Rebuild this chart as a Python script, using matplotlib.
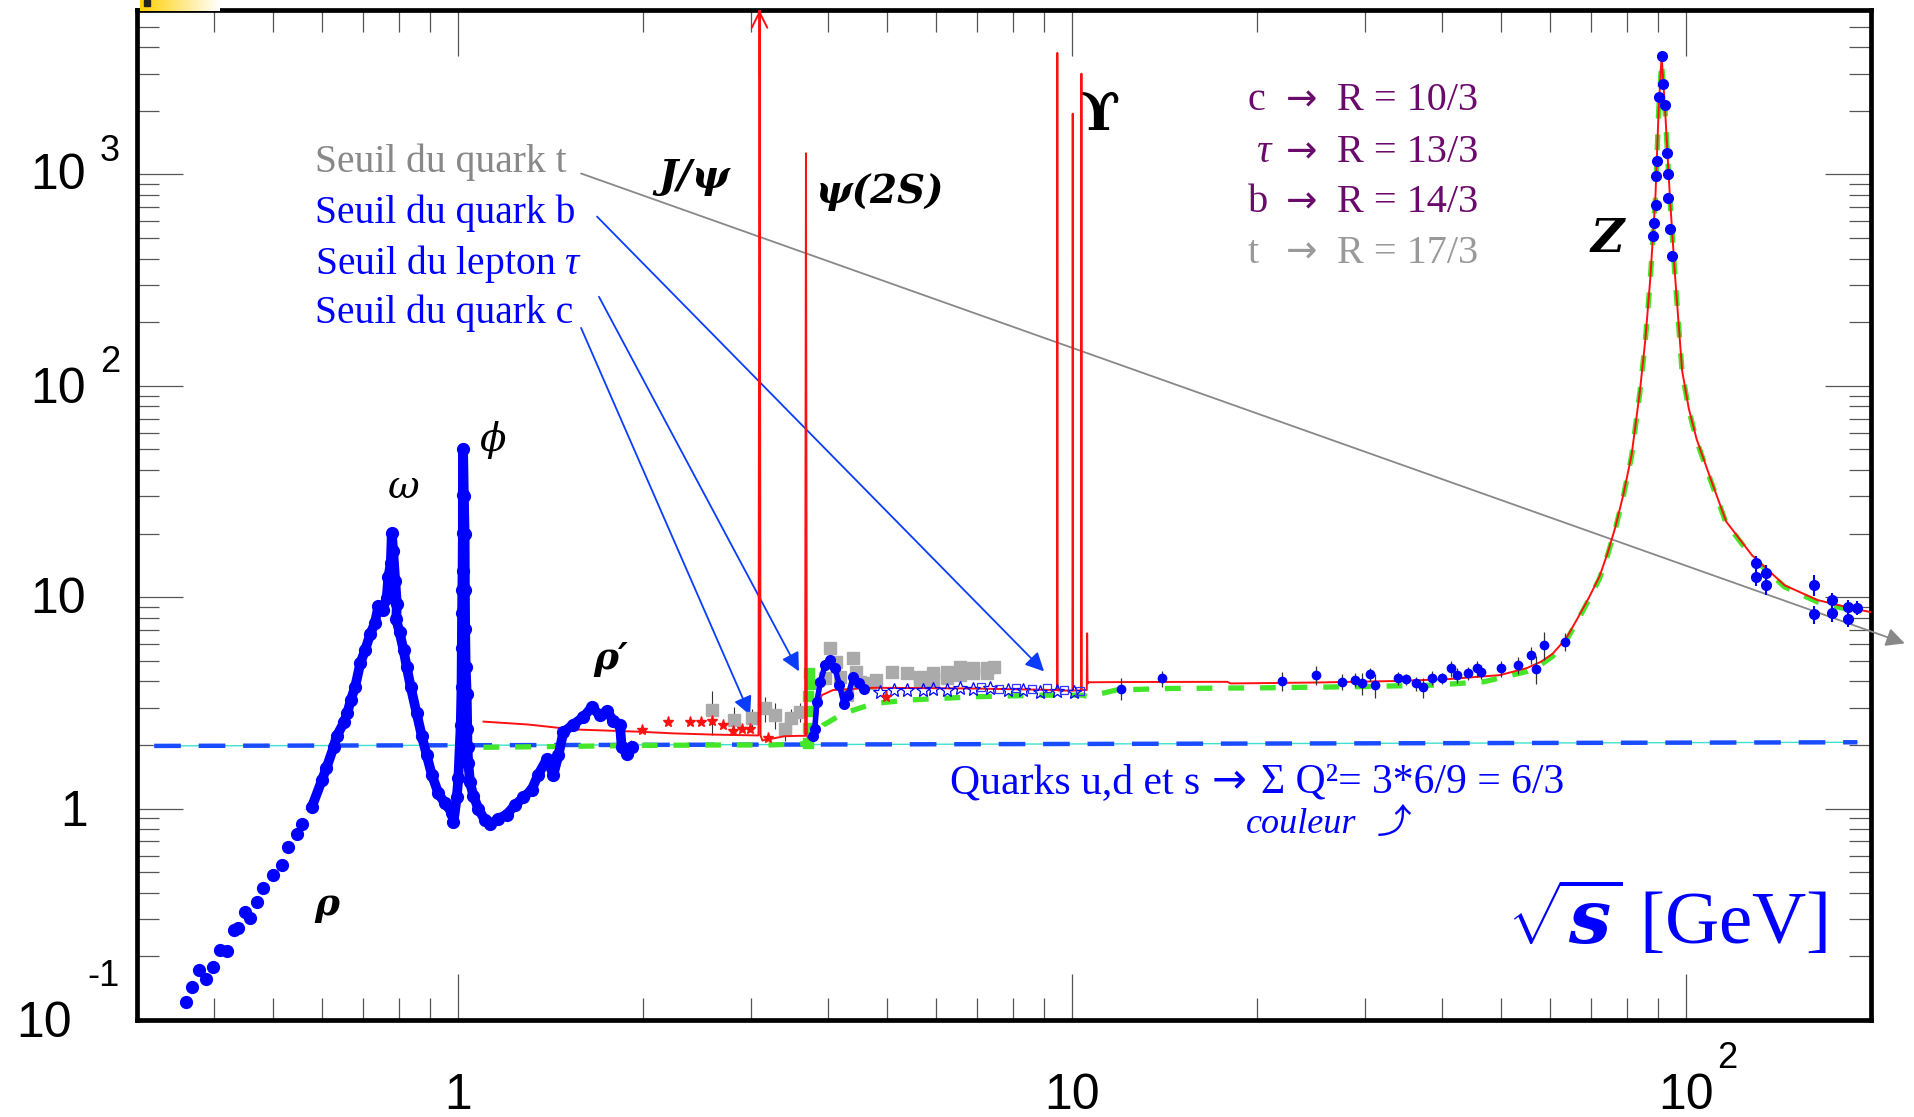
import numpy as np
import matplotlib
matplotlib.use('Agg')
import matplotlib.pyplot as plt
from matplotlib.ticker import LogLocator, NullFormatter

# ------------------------------------------------------------
# DATA
# ------------------------------------------------------------

# rho rise, sparse points below ~0.58 GeV
rho_x = [0.360, 0.369, 0.379, 0.389, 0.399, 0.410, 0.420, 0.431, 0.438, 0.450,
         0.458, 0.470, 0.482, 0.499, 0.516, 0.529, 0.546, 0.558]
rho_y = [0.122, 0.143, 0.173, 0.157, 0.178, 0.215, 0.212, 0.267, 0.273, 0.323,
         0.305, 0.362, 0.423, 0.487, 0.544, 0.656, 0.761, 0.843]

# dense low energy data: rho / omega / phi / rho'
low_x = [0.578, 0.600, 0.610, 0.627, 0.634, 0.652, 0.660, 0.669, 0.680, 0.693,
         0.706, 0.719, 0.732, 0.742, 0.754, 0.765, 0.770, 0.777, 0.780, 0.784,
         0.790, 0.795, 0.793, 0.803, 0.815, 0.825, 0.837, 0.856, 0.873, 0.889,
         0.906, 0.929, 0.952, 0.977, 0.983, 0.995, 1.001, 1.010, 1.013, 1.014,
         1.015, 1.016, 1.017, 1.018, 1.018, 1.019, 1.022, 1.025, 1.026, 1.027,
         1.029, 1.033, 1.035, 1.036, 1.039, 1.046, 1.059, 1.079, 1.106, 1.127,
         1.163, 1.200, 1.238, 1.278, 1.318, 1.351, 1.394, 1.430, 1.457, 1.484,
         1.541, 1.599, 1.650, 1.703, 1.747, 1.791, 1.835, 1.847, 1.882, 1.920]
low_y = [1.02, 1.36, 1.55, 1.95, 2.20, 2.56, 2.83, 3.27, 3.78, 4.87,
         5.64, 6.67, 7.54, 9.13, 8.7, 9.9, 12.5, 14.5, 20.1, 16.5,
         12.0, 9.3, 7.86, 6.82, 5.64, 4.66, 3.78, 2.83, 2.20, 1.79,
         1.45, 1.18, 1.06, 0.957, 0.86, 1.13, 1.39, 2.50, 3.78, 5.75,
         8.4, 10.8, 13.3, 20.1, 30.5, 50.5, 30.0, 20.0, 10.8, 7.1,
         4.66, 3.49, 2.39, 1.95, 1.64, 1.33, 1.15, 1.00, 0.879, 0.843,
         0.897, 0.937, 1.04, 1.13, 1.23, 1.45, 1.71, 1.45, 1.79, 2.30,
         2.50, 2.71, 3.01, 2.77, 2.89, 2.60, 2.50, 1.95, 1.82, 1.95]

# charm region, filled blue
charm_x = [3.78, 3.81, 3.84, 3.89, 3.96, 4.03, 4.11, 4.18, 4.25, 4.32, 4.40, 4.49, 4.58]
charm_y = [2.20, 2.39, 3.20, 3.98, 4.77, 5.04, 4.61, 3.84, 3.14, 3.44, 4.21, 3.91, 3.70]

# open blue stars and squares (4.8 - 10.5 GeV)
star_x = [4.87, 5.12, 5.38, 5.72, 5.94, 6.25, 6.56, 6.90, 7.34, 7.85, 8.33, 8.86, 9.45, 10.06]
star_y = [3.57, 3.64, 3.64, 3.64, 3.68, 3.64, 3.72, 3.68, 3.72, 3.64, 3.64, 3.57, 3.61, 3.55]
osq_x = [7.1, 7.6, 8.1, 8.6, 9.1, 9.7, 10.3]
osq_y = [3.76, 3.70, 3.74, 3.68, 3.72, 3.66, 3.62]

# grey squares
grey_x = [2.59, 2.81, 3.01, 3.16, 3.28, 3.41, 3.49, 3.60, 3.96, 4.04, 4.13, 4.19,
          4.30, 4.39, 4.44, 4.51, 4.69, 4.80, 5.09, 5.38, 5.65, 5.94, 6.25, 6.56,
          6.90, 7.26, 7.45, 5.65, 5.94, 6.25, 6.56, 6.90, 7.26]
grey_y = [2.92, 2.62, 2.67, 2.98, 2.77, 2.39, 2.67, 2.87, 4.13, 5.77, 4.95, 4.21,
          3.44, 5.14, 4.44, 3.98, 3.91, 4.06, 4.44, 4.36, 4.21, 4.36, 4.44, 4.69,
          4.61, 4.61, 4.69, 3.98, 4.06, 4.13, 4.28, 4.36, 4.36]
grey_err = [0.7, 0.4, 0.3, 0.4, 0.4, 0.3, 0.3, 0.3, 0.2, 0.3, 0.3, 0.4,
            0.3, 0.3, 0.2, 0.3, 0.2, 0.2, 0.2, 0.2, 0.1, 0.1, 0.1, 0.1,
            0.1, 0.1, 0.3, 0.1, 0.1, 0.1, 0.1, 0.1, 0.1]

# red stars
rstar_x = [1.99, 2.20, 2.39, 2.49, 2.59, 2.70, 2.80, 2.90, 2.99, 3.20, 4.98]
rstar_y = [2.35, 2.56, 2.56, 2.57, 2.59, 2.50, 2.32, 2.39, 2.39, 2.16, 3.39]

# green points at psi(2S)
gpt_x = [3.71, 3.72, 3.73, 3.72, 3.74, 3.73]
gpt_y = [2.05, 2.40, 2.90, 3.40, 3.90, 4.40]

# blue data 12 - 65 GeV
hi_x = [12.0, 14.0, 22.0, 25.0, 27.5, 28.9, 29.6, 30.6, 31.1, 33.9, 35.0, 36.3, 37.3,
        38.5, 40.1, 41.4, 42.4, 44.2, 45.7, 46.3, 49.9, 53.3, 55.8, 57.0, 58.6, 63.5]
hi_y = [3.70, 4.13, 4.02, 4.28, 3.98, 4.06, 3.91, 4.32, 3.85, 4.13, 4.10, 3.91, 3.75,
        4.16, 4.13, 4.61, 4.28, 4.36, 4.61, 4.44, 4.61, 4.77, 5.32, 4.60, 5.95, 6.16]
hi_err = [0.45, 0.35, 0.40, 0.45, 0.35, 0.30, 0.45, 0.30, 0.50, 0.30, 0.25, 0.30, 0.40,
          0.30, 0.25, 0.40, 0.35, 0.30, 0.40, 0.35, 0.40, 0.45, 0.50, 0.70, 0.90, 0.60]

# Z peak and above
z_x = [88.4, 88.5, 89.4, 89.4, 89.6, 90.2, 91.2, 91.7, 92.3, 92.9, 93.3, 93.5, 94.1, 94.7]
z_y = [510, 590, 715, 980, 1160, 2320, 3640, 2680, 2130, 1260, 1010, 770, 555, 410]
lep_x = [130, 130, 135, 135, 161.5, 161.5, 172.6, 172.6, 183.4, 183.4, 189.5]
lep_y = [14.5, 12.5, 13.0, 11.4, 11.4, 8.3, 9.7, 8.4, 9.0, 7.9, 8.9]
lep_err = [1.2, 1.2, 1.2, 1.1, 1.3, 0.8, 0.8, 0.8, 0.7, 0.7, 0.7]

# red curve (with narrow resonances)
red_x = [1.10, 1.30, 1.54, 1.98, 2.24, 2.60, 3.06, 3.085, 3.097, 3.109, 3.13, 3.40, 3.60,
         3.674, 3.686, 3.698, 3.72, 3.78, 3.82, 3.86, 3.91, 4.08, 4.75, 5.50, 6.90, 8.50,
         9.40, 9.448, 9.460, 9.472, 9.50, 9.95, 10.011, 10.023, 10.035, 10.06, 10.30,
         10.343, 10.355, 10.367, 10.40, 10.55, 10.565, 10.58, 10.595, 10.62, 12.0, 17.9,
         18.1, 25.0, 34.3, 41.0, 49.7, 55.0, 58.0, 60.6, 63.8, 66.8, 69.5, 72.3, 74.5, 76.7,
         79.0, 81.5, 84.1, 85.8, 87.4, 89.1, 90.2, 91.2, 92.4, 94.1, 95.9, 98.5, 101.0,
         104.0, 109.5, 116.2, 128.0, 144.6, 163.6, 185.0, 200.0]
red_y = [2.58, 2.50, 2.37, 2.31, 2.27, 2.24, 2.22, 2.22, 7000, 2.22, 2.10, 2.20, 2.21,
         2.21, 1260, 2.21, 2.15, 2.15, 2.4, 3.0, 3.44, 3.64, 3.73, 3.72, 3.70, 3.66,
         3.64, 3.64, 3760, 3.64, 3.62, 3.62, 3.62, 1940, 3.62, 3.62, 3.62,
         3.62, 3000, 3.62, 3.64, 3.64, 3.64, 6.75, 3.9, 3.96, 3.97, 3.98,
         3.91, 3.95, 4.02, 4.10, 4.28, 4.62, 4.95, 5.40, 6.40, 8.10, 10.0, 12.6, 16.2, 21.5,
         30.5, 47.1, 95, 165, 320, 775, 2030, 3640, 2030, 775, 335, 118, 78,
         56, 36.6, 22.8, 15.8, 11.4, 9.7, 8.9, 8.5]

# green dashed curve (quark thresholds)
green_x = [1.10, 1.50, 2.00, 2.60, 3.20, 3.60, 3.75, 3.93, 4.24, 4.75, 5.38, 6.90, 8.86,
           10.42, 10.60, 11.8, 14.3, 20.8, 30.1, 38.9, 46.8, 55.0, 58.0, 60.6, 63.8, 66.8,
           69.5, 72.3, 74.5, 76.7, 79.0, 81.5, 84.1, 85.8, 87.4, 89.1, 90.2, 91.2, 92.4,
           94.1, 95.9, 98.5, 101.0, 104.0, 109.5, 116.2, 128.0, 144.6, 163.6, 185.0, 195.0]
green_y = [1.95, 1.97, 1.99, 2.0, 2.0, 2.02, 2.05, 2.48, 2.82, 3.14, 3.26, 3.38, 3.44,
           3.44, 3.38, 3.64, 3.70, 3.73, 3.78, 3.84, 3.98, 4.45, 4.80, 5.25, 6.25, 7.90,
           9.8, 12.3, 15.9, 21.1, 30.0, 46.5, 94, 163, 316, 765, 2000, 3400, 2000,
           765, 330, 116, 77, 55, 36, 22.4, 15.5, 11.2, 9.5, 8.7, 8.4]

# u,d,s level (sum Q^2 * 3 = 2)
uds_x = [0.32, 190]
uds_y = [1.98, 2.06]

# tick positions and labels (base, exponent)
xtick_vals = [1, 10, 100]
xtick_lab = [('1', ''), ('10', ''), ('10', '2')]
ytick_vals = [0.1, 1, 10, 100, 1000]
ytick_lab = [('10', '-1'), ('1', ''), ('10', ''), ('10', '2'), ('10', '3')]

# ------------------------------------------------------------
# FIGURE
# ------------------------------------------------------------
plt.rcParams['font.family'] = 'Liberation Sans'
plt.rcParams['mathtext.fontset'] = 'custom'
plt.rcParams['mathtext.rm'] = 'Liberation Serif'
plt.rcParams['mathtext.it'] = 'Liberation Serif:italic'
plt.rcParams['mathtext.bf'] = 'DejaVu Serif:italic:bold'

W, H = 1915, 1117
fig = plt.figure(figsize=(W / 100, H / 100), dpi=100)
ax = fig.add_axes([137 / W, 1 - 1020 / H, (1871 - 137) / W, (1020 - 10) / H])
ax.set_xscale('log')
ax.set_yscale('log')
ax.set_xlim(0.3, 200)
ax.set_ylim(0.1, 6000)

# yellow strip top-left (slide decoration)
strip = fig.add_axes([140 / W, 1 - 11 / H, 80 / W, 11 / H])
strip.imshow(np.linspace(0, 1, 100)[None, :], cmap=matplotlib.colors.LinearSegmentedColormap.from_list(
    'y', ['#ffd000', '#ffffff']), aspect='auto')
strip.axis('off')
fig.patches.append(plt.Rectangle((144 / W, 1 - 6 / H), 6 / W, 6 / H, color='#222222',
                                 transform=fig.transFigure, figure=fig))

# lines
ax.plot(uds_x, uds_y, color='#40e0d0', lw=1.0, zorder=2)
ax.plot(uds_x, uds_y, color='#1a4cff', lw=3.2, ls=(0, (6, 4)), zorder=2)
ax.errorbar(grey_x, grey_y, yerr=grey_err, fmt='s', color='#aaaaaa', ms=8,
            ecolor='#333333', elinewidth=0.8, capsize=0, zorder=3)
ax.plot(green_x, green_y, color='#44e62a', lw=3.8, ls=(0, (3, 3)), zorder=4)
ax.plot(red_x, red_y, color='#ff1010', lw=1.4, zorder=5)
ax.plot(gpt_x, gpt_y, 's', color='#44e62a', ms=7, zorder=4)

# blue data
ax.plot(rho_x, rho_y, 'o', color='#0000ff', ms=8.5, zorder=6)
ax.plot(low_x, low_y, 'o-', color='#0000ff', ms=8.5, lw=7, zorder=6)
ax.plot(charm_x, charm_y, 'o-', color='#0000ff', ms=7, lw=4, zorder=6)
ax.plot(star_x, star_y, '*', color='#0000ff', mfc='none', ms=10, mew=0.9, zorder=6)
ax.plot(osq_x, osq_y, 's', color='#3333ff', mfc='none', ms=6, mew=0.9, zorder=6)
ax.plot(rstar_x, rstar_y, '*', color='#ff1010', ms=8, zorder=6)
ax.errorbar(hi_x, hi_y, yerr=hi_err, fmt='o', color='#0000ff', ms=6,
            ecolor='#333333', elinewidth=0.9, capsize=0, zorder=6)
ax.plot(z_x, z_y, 'o', color='#0000ff', ms=7, zorder=6)
ax.errorbar(lep_x, lep_y, yerr=lep_err, fmt='o', color='#0000ff', ms=7,
            ecolor='#0000ff', elinewidth=1.5, capsize=0, zorder=6)

# J/psi arrow at the top
ax.annotate('', xy=(3.097, 6000), xytext=(3.097, 3000),
            arrowprops=dict(arrowstyle='->', color='#ff1010', lw=1.4, mutation_scale=28,
                            shrinkA=0, shrinkB=0), zorder=5)

# ------------------------------------------------------------
# AXES STYLE
# ------------------------------------------------------------
for s in ax.spines.values():
    s.set_linewidth(3.4)

ax.set_xticks(xtick_vals)
ax.set_yticks(ytick_vals)
ax.xaxis.set_minor_locator(LogLocator(base=10, subs=np.arange(2, 10)))
ax.yaxis.set_minor_locator(LogLocator(base=10, subs=np.arange(2, 10)))
ax.xaxis.set_minor_formatter(NullFormatter())
ax.yaxis.set_minor_formatter(NullFormatter())
ax.tick_params(which='both', direction='in', top=True, right=True, color='#555555',
               labelbottom=False, labelleft=False)
ax.tick_params(which='major', length=33, width=0.9)
ax.tick_params(which='minor', length=16, width=0.9)

# tick labels drawn as "10" plus a detached exponent, like the original
tickfont = ['Liberation Sans Narrow', 'Liberation Sans']
ytr = ax.get_yaxis_transform()
xtr = ax.get_xaxis_transform()
y_off = {0.1: ((-121, -4), (-50, 43)), 1: ((-77, -4), None), 10: ((-107, -3), None),
         100: ((-107, -4), (-37, 23)), 1000: ((-107, -2), (-37, 23))}
for v, (base, ex) in zip(ytick_vals, ytick_lab):
    (bx, by), eo = y_off[v]
    ax.annotate(base, xy=(0, v), xycoords=ytr, xytext=(bx, by), textcoords='offset pixels',
                ha='left', va='center', fontsize=36, family=tickfont, annotation_clip=False)
    if ex:
        ax.annotate(ex, xy=(0, v), xycoords=ytr, xytext=eo, textcoords='offset pixels',
                    ha='left', va='center', fontsize=26, family=tickfont, annotation_clip=False)
for v, (base, ex) in zip(xtick_vals, xtick_lab):
    ax.annotate(base, xy=(v, 0), xycoords=xtr, xytext=(0, -76), textcoords='offset pixels',
                ha='center', va='center', fontsize=36, family=tickfont, annotation_clip=False)
    if ex:
        ax.annotate(ex, xy=(v, 0), xycoords=xtr, xytext=(41, -38), textcoords='offset pixels',
                    ha='center', va='center', fontsize=26, family=tickfont, annotation_clip=False)

# ------------------------------------------------------------
# ANNOTATIONS
# ------------------------------------------------------------
serif = ['Liberation Serif', 'DejaVu Sans']
blue = '#0000ff'
grey = '#888888'
purple = '#6a0a6a'

ax.text(0.585, 1033, 'Seuil du quark t', color=grey, fontsize=28.5, family=serif, va='baseline')
ax.text(0.585, 592, 'Seuil du quark b', color=blue, fontsize=28.5, family=serif, va='baseline')
ax.text(0.585, 339, r'Seuil du lepton $\tau$', color=blue, fontsize=28.5, family=serif, va='baseline')
ax.text(0.585, 199, 'Seuil du quark c', color=blue, fontsize=28.5, family=serif, va='baseline')

arr = dict(arrowstyle='-|>', lw=1.3, mutation_scale=28, shrinkA=0, shrinkB=0)
ax.annotate('', xy=(227, 6.05), xytext=(1.586, 1011), annotation_clip=False,
            arrowprops=dict(arr, color=grey))
ax.annotate('', xy=(9.0, 4.46), xytext=(1.684, 632), arrowprops=dict(arr, color='#0a3cff'))
ax.annotate('', xy=(3.59, 4.46), xytext=(1.696, 264), arrowprops=dict(arr, color='#0a3cff'))
ax.annotate('', xy=(2.99, 2.77), xytext=(1.586, 188), arrowprops=dict(arr, color='#0a3cff'))

# right side thresholds
lab_y = [2010, 1140, 661, 383]
lab_sym = ['c', r'$\tau$', 'b', 't']
lab_val = ['R = 10/3', 'R = 13/3', 'R = 14/3', 'R = 17/3']
lab_col = [purple, purple, purple, '#999999']
for yy, sym, val, col in zip(lab_y, lab_sym, lab_val, lab_col):
    ax.text(19.3 if sym != r'$\tau$' else 19.9, yy, sym, color=col, fontsize=29,
            family=serif, va='baseline')
    ax.text(22.3, yy, '\u2192', color=col, fontsize=27, family='DejaVu Sans', va='baseline')
    ax.text(27.0, yy, val, color=col, fontsize=29, family=serif, va='baseline')

# resonances
bi = dict(family='DejaVu Serif', weight='bold', style='italic', ha='center', va='center')
ax.text(2.42, 968, 'J/\u03c8', fontsize=29, **bi)
ax.text(4.85, 822, '\u03c8(2S)', fontsize=28, **bi)
ax.text(11.07, 1904, '\u03d2', fontsize=38, family='DejaVu Serif', weight='bold', ha='center', va='center')
ax.text(74.3, 497, 'Z', fontsize=33, **bi)
ax.text(0.817, 33.2, '\u03c9', fontsize=28, family='DejaVu Serif', style='italic', ha='center', va='center')
ax.text(1.14, 55.5, '\u03d5', fontsize=28, family='DejaVu Serif', style='italic', ha='center', va='center')
ax.text(0.612, 0.351, '\u03c1', fontsize=27, **bi)
ax.text(1.775, 5.14, '\u03c1\u2032', fontsize=27, **bi)

# u,d,s text
ax.text(6.33, 1.19, 'Quarks u,d et s', color=blue, fontsize=30, family=serif, va='baseline')
ax.text(16.9, 1.19, '\u2192', color=blue, fontsize=30, family='DejaVu Sans', va='baseline')
ax.text(20.3, 1.19, '\u03a3 Q\u00b2= 3*6/9 = 6/3', color=blue, fontsize=30, family=serif,
        va='baseline')
ax.text(19.2, 0.77, 'couleur', color=blue, fontsize=26, family=serif,
        style='italic', va='baseline')
ax.text(31.3, 0.77, '\u2934', color=blue, fontsize=25,
        family=['DejaVu Sans', 'Noto Sans CJK JP', 'Noto Sans', 'DejaVu Serif'], va='baseline')

# x axis label
ax.text(170, 0.229, r'$\sqrt{\mathbf{s}}$ [GeV]', color=blue, fontsize=54,
        family=serif, ha='right', va='baseline')

fig.savefig('out.png', dpi=100)
